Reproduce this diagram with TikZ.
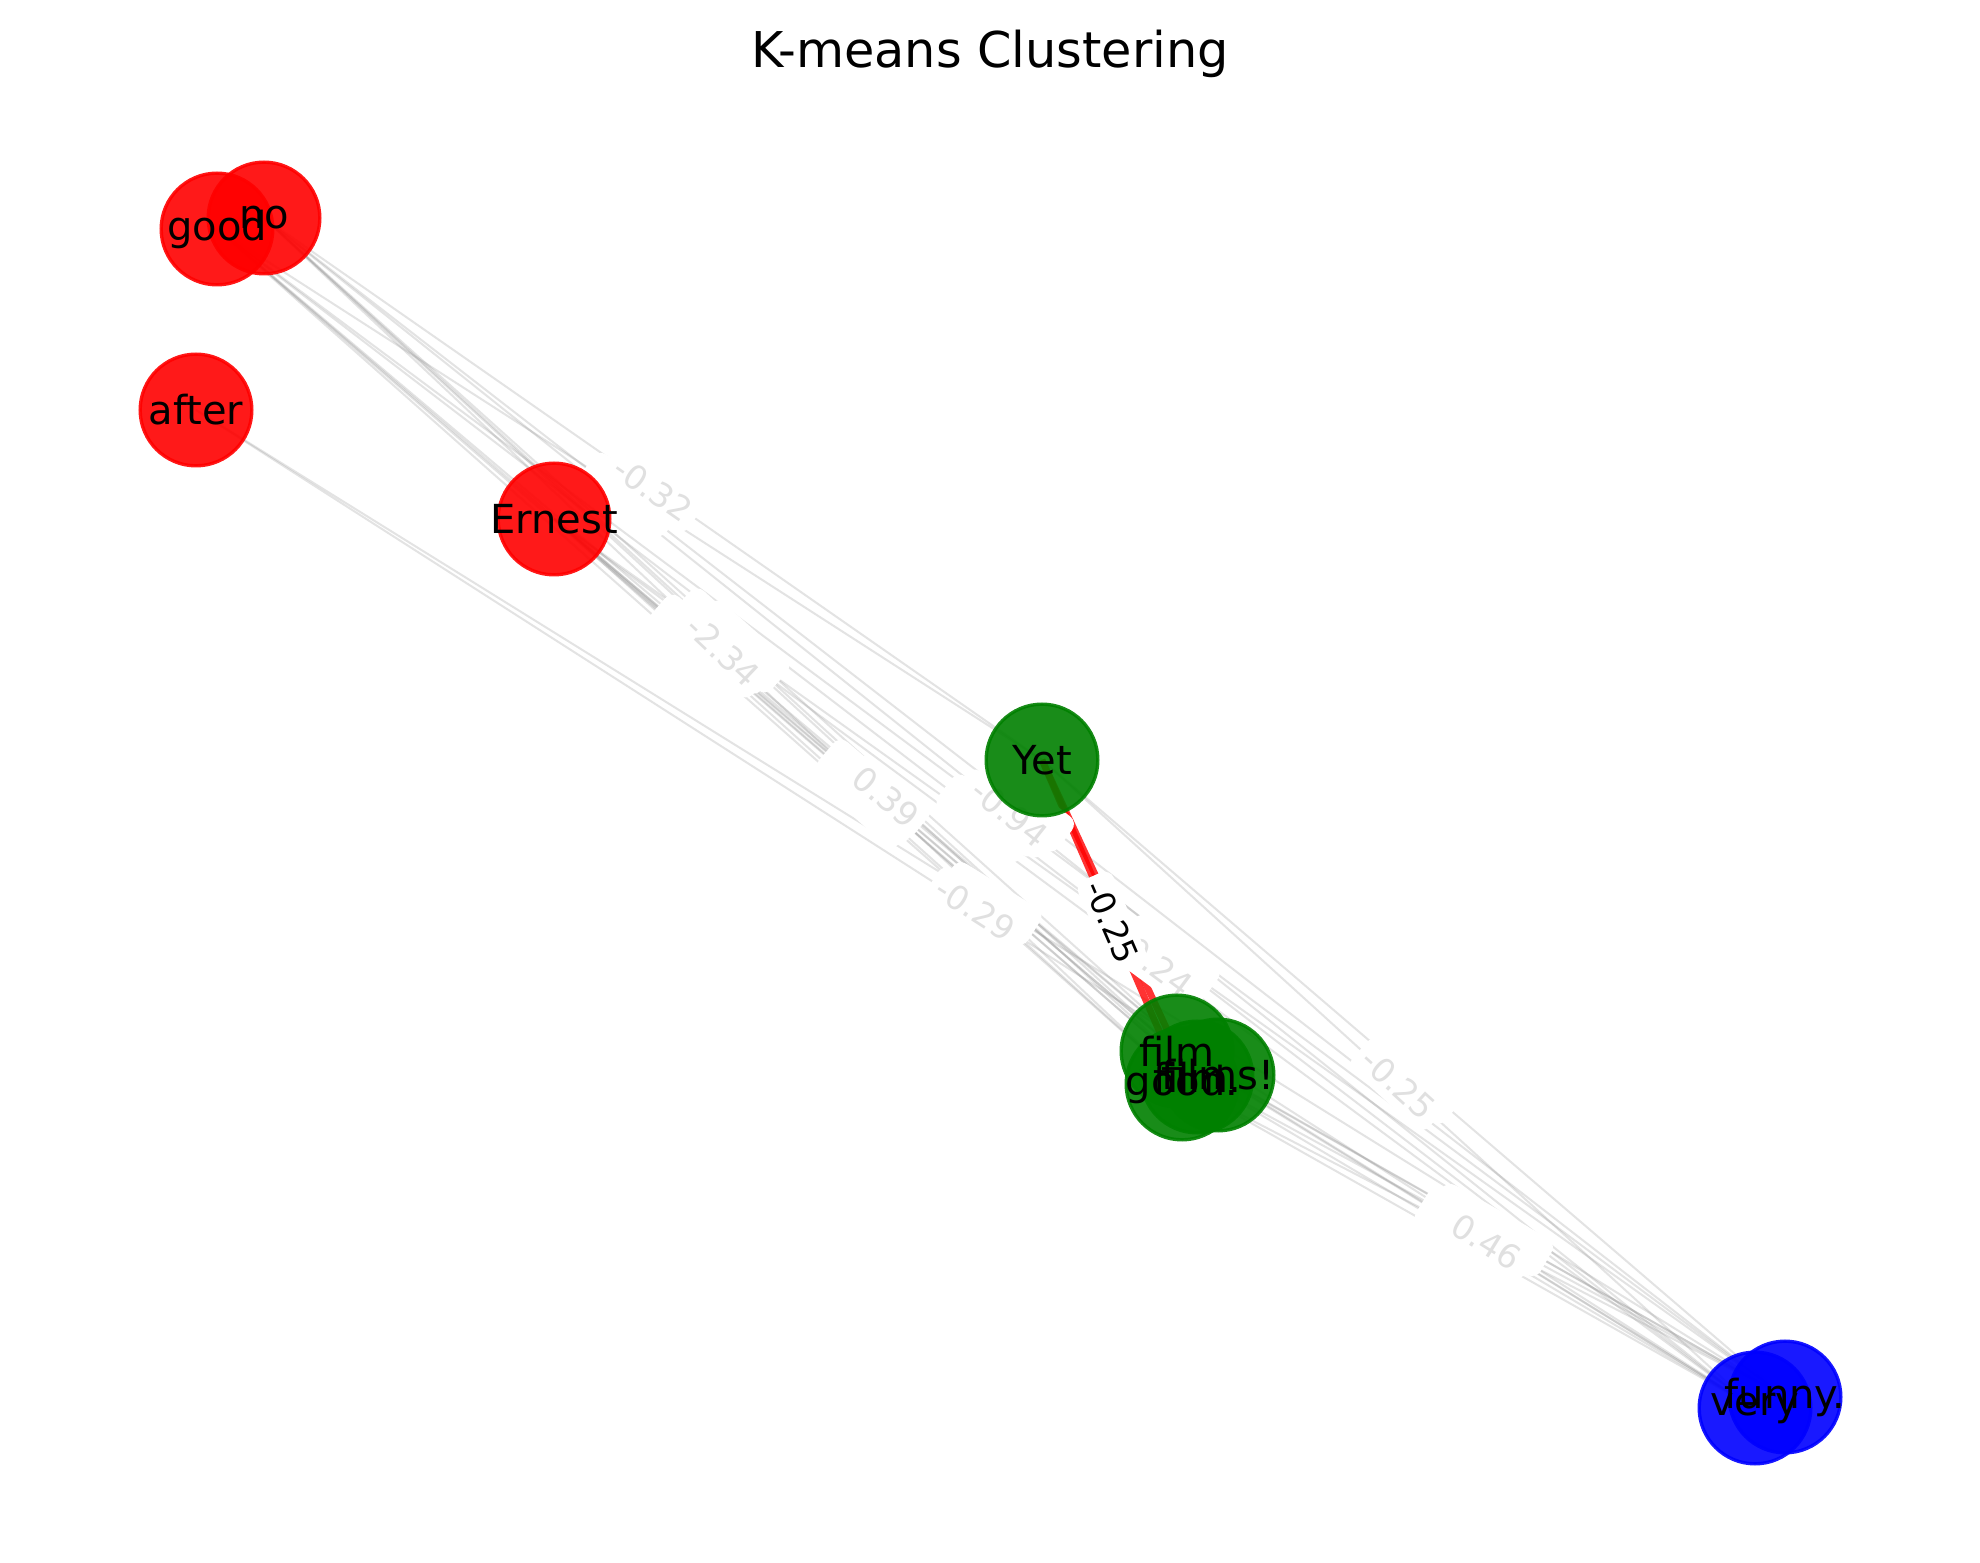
\documentclass[tikz,border=0pt]{standalone}
\usepackage{fontspec}
\setmainfont{DejaVu Sans}
\usepackage{tikz}
\definecolor{kred}{RGB}{255,0,0}
\definecolor{kgreen}{RGB}{0,128,0}
\definecolor{kblue}{RGB}{0,0,255}

\begin{document}
\begin{tikzpicture}[x=0.3pt, y=-0.3pt,
    word/.style={circle, minimum size=33.5pt, inner sep=0pt, line width=1pt,
                 draw=#1, fill=#1, fill opacity=0.9, draw opacity=0.9},
    wordtext/.style={inner sep=0pt, font=\fontsize{12}{14}\selectfont},
    link/.style={draw=gray, draw opacity=0.22, line width=0.6pt},
    hotlink/.style={draw=kred, draw opacity=0.8, line width=2pt},
    weight/.style={sloped, fill=white, rounded corners=3pt, inner sep=2.5pt,
                   text=black!12, font=\fontsize{10}{12}\selectfont},
    hotweight/.style={weight, text=black, inner sep=2pt}]

\useasboundingbox (0,0) rectangle (1980,1563);
\fill[white] (0,0) rectangle (1980,1563);

% Title
\node (title) at (990,54) {\fontsize{14.8}{17}\selectfont K-means Clustering};

% Word positions (pixel grid, y down)
\coordinate (good)   at (217,229);
\coordinate (no)     at (264,218);
\coordinate (after)  at (196,410);
\coordinate (ernest) at (554,519);
\coordinate (yet)    at (1042,760);
\coordinate (film)   at (1177,1051);
\coordinate (goodp)  at (1182,1084);
\coordinate (filmp)  at (1197,1077);
\coordinate (filmsx) at (1218,1075);
\coordinate (very)   at (1755,1408);
\coordinate (funny)  at (1785,1397);

% Gray links -- one draw each so overlaps darken
\draw[link] (good) -- (yet);     \draw[link] (no) -- (yet);
\draw[link] (good) -- (film);    \draw[link] (good) -- (goodp);
\draw[link] (good) -- (filmp);   \draw[link] (good) -- (filmsx);
\draw[link] (no) -- (film);      \draw[link] (no) -- (goodp);
\draw[link] (no) -- (filmp);     \draw[link] (no) -- (filmsx);
\draw[link] (good) -- (very);    \draw[link] (good) -- (funny);
\draw[link] (no) -- (very);      \draw[link] (no) -- (funny);
\draw[link] (after) -- (very);   \draw[link] (after) -- (funny);
\draw[link] (ernest) -- (film);  \draw[link] (ernest) -- (goodp);
\draw[link] (ernest) -- (filmp); \draw[link] (ernest) -- (filmsx);
\draw[link] (ernest) -- (very);  \draw[link] (ernest) -- (funny);
\draw[link] (yet) -- (very);     \draw[link] (yet) -- (funny);
\draw[link] (film) -- (very);    \draw[link] (film) -- (funny);
\draw[link] (goodp) -- (very);   \draw[link] (goodp) -- (funny);
\draw[link] (filmp) -- (very);   \draw[link] (filmp) -- (funny);
\draw[link] (filmsx) -- (very);  \draw[link] (filmsx) -- (funny);

% Red links inside the green cluster
\draw[hotlink] (yet) -- (film);
\draw[hotlink] (yet) -- (goodp);

% Weight labels hidden under others (white patches only)
\path (good) -- node[weight]{\phantom{-0.00}} (yet);
\path (good) -- node[weight]{\phantom{-0.00}} (film);
\path (good) -- node[weight]{\phantom{-0.00}} (goodp);
\path (good) -- node[weight]{\phantom{-0.00}} (filmp);
\path (good) -- node[weight]{\phantom{-0.00}} (filmsx);
\path (no) -- node[weight]{\phantom{-0.00}} (film);
\path (no) -- node[weight]{\phantom{-0.00}} (filmp);
\path (no) -- node[weight]{\phantom{-0.00}} (filmsx);
\path (good) -- node[weight]{\phantom{-0.00}} (very);
\path (good) -- node[weight]{\phantom{-0.00}} (funny);
\path (no) -- node[weight]{\phantom{-0.00}} (funny);
\path (after) -- node[weight]{\phantom{-0.00}} (funny);
\path (ernest) -- node[weight]{\phantom{-0.00}} (film);
\path (ernest) -- node[weight]{\phantom{-0.00}} (goodp);
\path (ernest) -- node[weight]{\phantom{-0.00}} (filmp);
\path (ernest) -- node[weight]{\phantom{-0.00}} (funny);
\path (yet) -- node[weight]{\phantom{-0.00}} (funny);
\path (film) -- node[weight]{\phantom{-0.00}} (very);
\path (film) -- node[weight]{\phantom{-0.00}} (funny);
\path (goodp) -- node[weight]{\phantom{-0.00}} (very);
\path (goodp) -- node[weight]{\phantom{-0.00}} (funny);
\path (filmp) -- node[weight]{\phantom{-0.00}} (very);
\path (filmp) -- node[weight]{\phantom{-0.00}} (funny);
\path (filmsx) -- node[weight]{\phantom{-0.00}} (funny);

% Visible weight labels
\path (no) -- node[weight]{-0.32} (yet);
\path (no) -- node[weight]{-2.34} (goodp);
\path (ernest) -- node[weight]{0.39} (filmsx);
\path (no) -- node[weight]{-0.94} (very);
\path (after) -- node[weight]{-0.29} (very);
\path (ernest) -- node[weight]{-0.24} (very);
\path (yet) -- node[weight]{-0.25} (very);
\path (filmsx) -- node[weight]{0.46} (very);
\path (yet) -- node[hotweight]{-0.25} (goodp);

% Word circles
\node (c-good)   [word=kred]   at (good)   {};
\node (c-no)     [word=kred]   at (no)     {};
\node (c-after)  [word=kred]   at (after)  {};
\node (c-ernest) [word=kred]   at (ernest) {};
\node (c-yet)    [word=kgreen] at (yet)    {};
\node (c-film)   [word=kgreen] at (film)   {};
\node (c-goodp)  [word=kgreen] at (goodp)  {};
\node (c-filmp)  [word=kgreen] at (filmp)  {};
\node (c-filmsx) [word=kgreen] at (filmsx) {};
\node (c-very)   [word=kblue]  at (very)   {};
\node (c-funny)  [word=kblue]  at (funny)  {};

% Word texts on top of all circles
\node (t-good)   [wordtext] at (good)   {good};
\node (t-no)     [wordtext] at (no)     {no};
\node (t-after)  [wordtext] at (after)  {after};
\node (t-ernest) [wordtext] at (ernest) {Ernest};
\node (t-yet)    [wordtext] at (yet)    {Yet};
\node (t-film)   [wordtext] at (film)   {film};
\node (t-filmp)  [wordtext] at (filmp)  {film.};
\node (t-goodp)  [wordtext] at (goodp)  {good.};
\node (t-filmsx) [wordtext] at (filmsx) {films!};
\node (t-very)   [wordtext] at (very)   {very};
\node (t-funny)  [wordtext] at (funny)  {funny.};

\end{tikzpicture}
\end{document}
